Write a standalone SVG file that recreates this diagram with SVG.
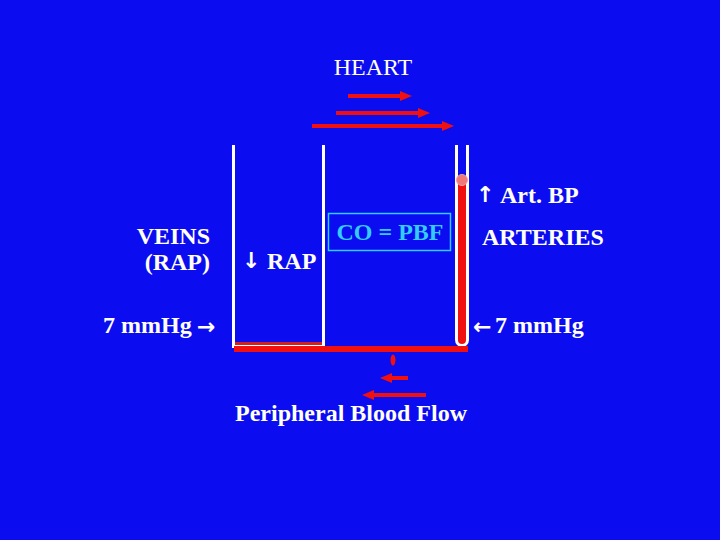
<svg xmlns="http://www.w3.org/2000/svg" width="720" height="540" viewBox="0 0 720 540">
<defs>
<style>
.t{font-family:"Liberation Serif","Times New Roman",serif;font-size:24px;fill:#ffffff;font-weight:bold}
.reg{font-weight:normal}
.cyan{fill:#33CCFF}
.ar{font-family:"DejaVu Sans",sans-serif;font-size:22px;font-weight:bold;fill:#ffffff}
.wall{stroke:#ffffff;stroke-width:3;fill:none}
.flow{stroke:#F01010;stroke-width:4;fill:none}
</style>
<marker id="ah" markerWidth="12" markerHeight="10" refX="2" refY="5" orient="auto" markerUnits="userSpaceOnUse">
<path d="M0,0 L12,5 L0,10 z" fill="#F01010"/>
</marker>
</defs>
<rect width="720" height="540" fill="#0C0CF0"/>

<g id="heart">
<text class="t reg" x="373" y="75" text-anchor="middle">HEART</text>
</g>

<g id="veins-vessel">
<rect x="234" y="342" width="89" height="4" fill="#D02020"/>
<path class="wall" d="M233.5,145 V346.5 H323.5 V145"/>
</g>

<g id="artery-vessel">
<path d="M457,179 V340 A5,5 0 0 0 467,340 V179 Z" fill="#F01010"/>
<path class="wall" d="M456.5,145 V340 A5.5,5.5 0 0 0 467.5,340 V145"/>
<circle cx="462" cy="180" r="5.5" fill="#F07878" stroke="#F4A0A0" stroke-width="1"/>
</g>

<g id="periph-bar">
<rect x="234" y="346" width="234" height="6" fill="#F01010"/>
</g>

<g id="co-box">
<rect x="328.5" y="213.5" width="122" height="37" fill="none" stroke="#33CCFF" stroke-width="1.5"/>
<text class="t cyan" x="390" y="240" text-anchor="middle">CO = PBF</text>
</g>

<g id="labels">
<text class="t" x="210" y="244" text-anchor="end">VEINS</text>
<text class="t" x="210" y="270" text-anchor="end">(RAP)</text>
<text class="t" x="103" y="333">7 mmHg</text>
<text class="ar" x="197" y="334">→</text>
<text class="ar" x="242" y="268">↓</text>
<text class="t" x="267" y="269">RAP</text>
<text class="ar" x="476" y="202">↑</text>
<text class="t" x="500" y="203">Art. BP</text>
<text class="t" x="482" y="245">ARTERIES</text>
<text class="ar" x="473" y="334">←</text>
<text class="t" x="495" y="333">7 mmHg</text>
<text class="t" x="351" y="421" text-anchor="middle">Peripheral Blood Flow</text>
</g>

<g id="connectors">
<line class="flow" x1="348" y1="96" x2="402" y2="96" marker-end="url(#ah)"/>
<line class="flow" x1="336" y1="113" x2="420" y2="113" marker-end="url(#ah)"/>
<line class="flow" x1="312" y1="126" x2="444" y2="126" marker-end="url(#ah)"/>
<ellipse cx="393" cy="360" rx="2.5" ry="5.5" fill="#F01010"/>
<line class="flow" x1="408" y1="378" x2="390" y2="378" marker-end="url(#ah)"/>
<line class="flow" x1="426" y1="395" x2="372" y2="395" marker-end="url(#ah)"/>
</g>
</svg>
